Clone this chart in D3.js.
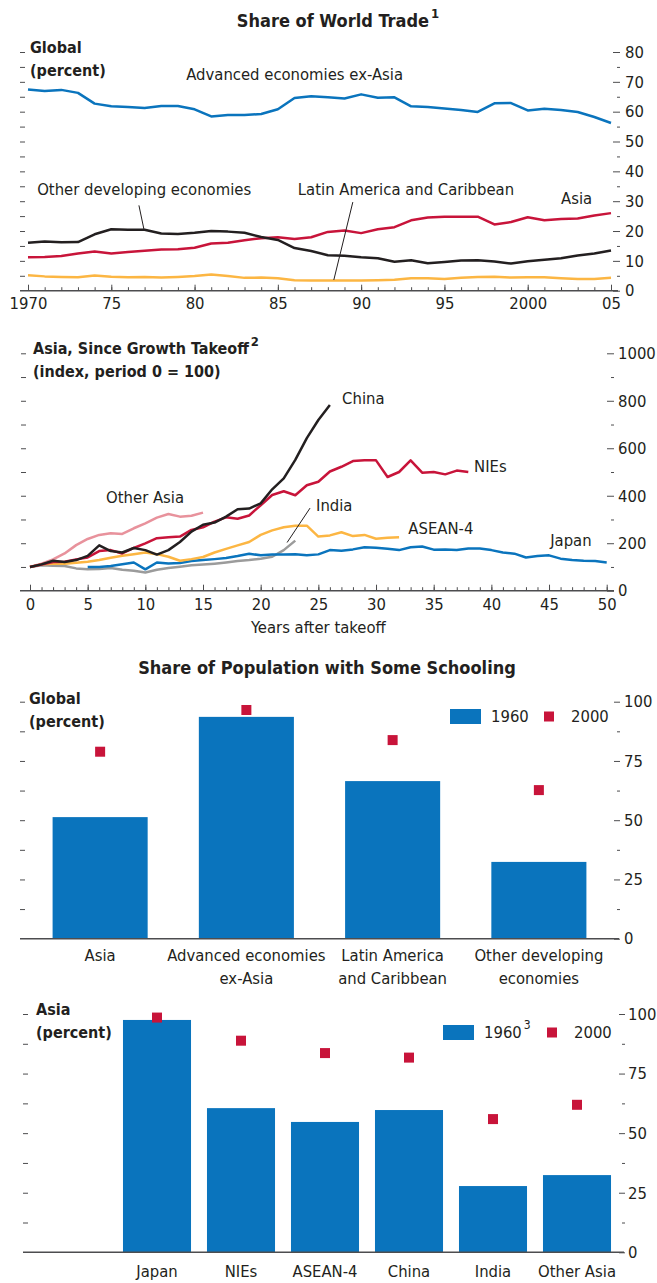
<!DOCTYPE html>
<html>
<head>
<meta charset="utf-8">
<script src="https://cdn.jsdelivr.net/npm/d3@7"></script>
<style>
  body { margin: 0; background: #fff; }
  svg text { font-family: "DejaVu Sans Condensed", "DejaVu Sans", sans-serif; font-stretch: condensed; fill: #231f20; }
  .ax text { font-size: 16.5px; }
  .lbl { font-size: 16.5px; }
  .bold { font-weight: bold; font-size: 16px; }
  .title { font-weight: bold; font-size: 18px; }
</style>
</head>
<body>
<svg id="chart" width="657" height="1283"></svg>
<script>
// --- share of world trade (percent), 1970-2005 ---
var years = d3.range(1970, 2006);
var advancedExAsia = [67.4, 66.9, 67.3, 66.3, 62.7, 61.8, 61.6, 61.2, 61.9, 61.9,
                      60.8, 58.4, 58.9, 58.9, 59.2, 60.8, 64.6, 65.2, 64.8, 64.4,
                      65.8, 64.7, 64.8, 61.8, 61.6, 61.1, 60.6, 59.9, 62.8, 62.9,
                      60.4, 61.0, 60.6, 59.9, 58.2, 56.2];
var asiaTrade = [11.2, 11.3, 11.6, 12.5, 13.1, 12.5, 13.0, 13.4, 13.8, 13.9,
                 14.4, 15.8, 16.1, 16.9, 17.6, 17.9, 17.3, 17.9, 19.7, 20.2,
                 19.3, 20.6, 21.3, 23.6, 24.5, 24.8, 24.8, 24.8, 22.2, 23.0,
                 24.6, 23.6, 24.0, 24.2, 25.2, 26.0];
var otherDeveloping = [16.1, 16.5, 16.2, 16.3, 18.9, 20.6, 20.4, 20.4, 19.2, 19.0,
                       19.4, 20.0, 19.8, 19.4, 18.0, 17.0, 14.3, 13.3, 11.9, 11.7,
                       11.2, 10.9, 9.7, 10.2, 9.2, 9.6, 10.1, 10.2, 9.8, 9.1,
                       9.9, 10.4, 10.9, 11.8, 12.5, 13.5];
var latinAmerica = [5.2, 4.8, 4.6, 4.5, 5.1, 4.7, 4.5, 4.6, 4.4, 4.6,
                    4.9, 5.4, 4.9, 4.3, 4.4, 4.2, 3.5, 3.4, 3.4, 3.4,
                    3.4, 3.5, 3.7, 4.2, 4.2, 3.9, 4.3, 4.6, 4.7, 4.4,
                    4.5, 4.5, 4.2, 3.9, 3.9, 4.3];

// --- Asia since growth takeoff (index, period 0 = 100) ---
var chinaIdx = [100, 111, 126, 121, 129, 147, 191, 167, 161, 180, 171, 152, 171, 205, 249,
                278, 287, 312, 343, 346, 368, 427, 473, 551, 643, 719, 782];
var niesIdx = [100, 110, 121, 122, 132, 140, 167, 171, 157, 180, 199, 221, 225, 228, 256,
               267, 291, 309, 303, 317, 360, 403, 419, 402, 444, 459, 502, 522, 546, 549,
               549, 479, 500, 549, 497, 500, 490, 506, 500];
var aseanIdx = [100, 111, 114, 114, 118, 122, 129, 139, 147, 154, 161, 154, 143, 126, 133,
                142, 161, 176, 191, 205, 235, 254, 267, 274, 274, 228, 233, 246, 230, 235,
                219, 223, 225];
var japanStart = 5;
var japanIdx = [100, 100, 104, 111, 119, 90, 119, 115, 117, 125, 129, 133, 138, 146, 156,
                149, 152, 153, 154, 149, 153, 171, 168, 174, 183, 181, 177, 171, 183, 186,
                173, 174, 171, 178, 178, 171, 161, 156, 140, 146, 149, 135, 129, 126, 125, 119];
var otherAsiaIdx = [100, 114, 132, 157, 192, 218, 235, 242, 239, 263, 284, 308, 323, 312, 316, 329];
var indiaIdx = [100, 107, 105, 104, 94, 90, 91, 96, 88, 84, 77, 88, 96, 101, 107, 110,
                114, 119, 125, 129, 135, 143, 171, 211];

// --- share of population with some schooling (percent) ---
var globalCats = ["Asia", "Advanced economies\nex-Asia", "Latin America\nand Caribbean", "Other developing\neconomies"];
var global1960 = [51.3, 93.6, 66.5, 32.4];
var global2000 = [78.9, 96.5, 83.8, 62.7];
var asiaCats = ["Japan", "NIEs", "ASEAN-4", "China", "India", "Other Asia"];
var asia1960 = [97.5, 60.5, 54.7, 59.7, 27.8, 32.4];
var asia2000 = [98.5, 88.8, 83.6, 81.7, 55.9, 61.9];

var blue = "#0a74bd", red = "#c8143a", black = "#231f20", gold = "#fcb643",
    pink = "#e8929c", grey = "#9b9b9b", axisCol = "#4d4d4f";

var svg = d3.select("#chart");

var clean = function(g) {
  g.attr("font-size", null).attr("font-family", null).attr("class", "ax").attr("color", axisCol);
  g.select(".domain").remove();
};

var leftTicks = function(y, values, x0) {
  svg.append("g").attr("transform", "translate(" + x0 + ",0)")
    .call(d3.axisRight(y).tickValues(values).tickSize(5).tickFormat(""))
    .call(clean);
};

var rightAxis = function(y, major, minor, x0, len, pad) {
  svg.append("g").attr("transform", "translate(" + x0 + ",0)")
    .call(d3.axisRight(y).tickValues(major).tickSize(len).tickPadding(pad).tickFormat(d3.format("d")))
    .call(clean);
  svg.append("g").attr("transform", "translate(" + (x0 + len - 3) + ",0)")
    .call(d3.axisRight(y).tickValues(minor).tickSize(3).tickFormat(""))
    .call(clean);
};

var baseLine = function(xa, xb, y) {
  svg.append("line").attr("x1", xa).attr("x2", xb).attr("y1", y).attr("y2", y)
    .attr("stroke", axisCol).attr("stroke-width", 1.5);
};

var drawLine = function(x, y, start, vals, col) {
  var pts = vals.map(function(v, i) { return [start + i, v]; });
  svg.append("path").datum(pts)
    .attr("d", d3.line().x(function(d) { return x(d[0]); }).y(function(d) { return y(d[1]); }))
    .attr("fill", "none").attr("stroke", col).attr("stroke-width", 2.5)
    .attr("stroke-linejoin", "round");
};

var note = function(txt, x, y, cls, anchor) {
  return svg.append("text").attr("x", x).attr("y", y).attr("class", cls || "lbl")
    .attr("text-anchor", anchor || "start").attr("dominant-baseline", "central").text(txt);
};

var leader = function(x, y, a, b) {
  svg.append("line").attr("x1", x(a[0])).attr("y1", y(a[1])).attr("x2", x(b[0])).attr("y2", y(b[1]))
    .attr("stroke", black).attr("stroke-width", 1);
};

var titleSup = function(txt, sup, x, y, cls, anchor) {
  var t = note(txt, x, y, cls, anchor);
  t.append("tspan").attr("dy", -7).attr("dx", 2).style("font-size", "13px").text(sup);
  return t;
};

// ================= panel 1 =================
var x1 = d3.scaleLinear().domain([1970, 2005]).range([28, 611]);
var y1 = d3.scaleLinear().domain([0, 80]).range([290.7, 52]);

titleSup("Share of World Trade", "1", 338, 20, "title", "middle");
note("Global", 30, 47, "bold");
note("(percent)", 30, 70, "bold");

leftTicks(y1, d3.range(5, 81, 5), 20);
rightAxis(y1, d3.range(0, 81, 10), d3.range(5, 81, 10), 613, 7, 5);
baseLine(20, 618, y1(0));
svg.append("g").attr("transform", "translate(0," + y1(0) + ")")
  .call(d3.axisBottom(x1).tickValues(d3.range(1970, 2006, 5)).tickSizeInner(-6).tickSizeOuter(0).tickPadding(7)
    .tickFormat(function(d) { return (d === 1970 || d === 2000) ? String(d) : String(d % 100).padStart(2, "0"); }))
  .call(clean);
svg.append("g").attr("transform", "translate(0," + y1(0) + ")")
  .call(d3.axisBottom(x1).tickValues(years).tickSizeInner(-3.5).tickSizeOuter(0).tickFormat(""))
  .call(clean);

drawLine(x1, y1, 1970, latinAmerica, gold);
drawLine(x1, y1, 1970, asiaTrade, red);
drawLine(x1, y1, 1970, otherDeveloping, black);
drawLine(x1, y1, 1970, advancedExAsia, blue);

note("Advanced economies ex-Asia", x1(1979.5), y1(72.3));
note("Other developing economies", x1(1970.55), y1(33.8));
leader(x1, y1, [1976.66, 28.6], [1976.96, 20.6]);
note("Latin America and Caribbean", x1(1986.2), y1(33.8));
leader(x1, y1, [1989.5, 29.7], [1988.36, 3.6]);
note("Asia", x1(2002), y1(31));

// ================= panel 2 =================
var x2 = d3.scaleLinear().domain([0, 50]).range([30, 606.7]);
var y2 = d3.scaleLinear().domain([0, 1000]).range([590.7, 353.3]);

titleSup("Asia, Since Growth Takeoff", "2", 33, 348, "bold");
note("(index, period 0 = 100)", 33, 371, "bold");

leftTicks(y2, d3.range(100, 1001, 100), 21);
rightAxis(y2, d3.range(0, 1001, 200), d3.range(100, 1001, 200), 607, 7, 4);
baseLine(20, 614, y2(0));
svg.append("g").attr("transform", "translate(0," + y2(0) + ")")
  .call(d3.axisBottom(x2).tickValues(d3.range(0, 51, 5)).tickSizeInner(-6).tickSizeOuter(0).tickPadding(8))
  .call(clean);
svg.append("g").attr("transform", "translate(0," + y2(0) + ")")
  .call(d3.axisBottom(x2).tickValues(d3.range(0, 51, 1)).tickSizeInner(-3.5).tickSizeOuter(0).tickFormat(""))
  .call(clean);
note("Years after takeoff", x2(25), 627, "lbl", "middle");

drawLine(x2, y2, 0, otherAsiaIdx, pink);
drawLine(x2, y2, 0, indiaIdx, grey);
drawLine(x2, y2, japanStart, japanIdx, blue);
drawLine(x2, y2, 0, aseanIdx, gold);
drawLine(x2, y2, 0, niesIdx, red);
drawLine(x2, y2, 0, chinaIdx, black);

note("China", x2(27.06), y2(808));
note("NIEs", x2(38.5), y2(525));
note("India", x2(24.8), y2(357));
leader(x2, y2, [24.28, 348], [22.29, 203]);
note("ASEAN-4", x2(32.8), y2(260));
note("Japan", x2(45.1), y2(213));
note("Other Asia", x2(6.6), y2(391));

// ================= bar panels =================
var barPanel = function(cats, v1960, v2000, cfg) {
  var x = d3.scaleBand().domain(cats).range(cfg.xr).paddingInner(cfg.pi).paddingOuter(cfg.po);
  var y = d3.scaleLinear().domain([0, 100]).range(cfg.yr);

  leftTicks(y, d3.range(12.5, 101, 12.5), cfg.left);
  rightAxis(y, [0, 25, 50, 75, 100], [12.5, 37.5, 62.5, 87.5], cfg.right, 6, cfg.pad);

  svg.append("g").selectAll("rect").data(cats).join("rect")
    .attr("x", function(d) { return x(d); })
    .attr("y", function(d, i) { return y(v1960[i]); })
    .attr("width", x.bandwidth())
    .attr("height", function(d, i) { return y(0) - y(v1960[i]); })
    .attr("fill", blue);
  baseLine(cfg.left, cfg.right + 5, y(0));

  var s = 10;
  svg.append("g").selectAll("rect").data(cats).join("rect")
    .attr("x", function(d) { return x(d) + x.bandwidth() / 2 - s / 2; })
    .attr("y", function(d, i) { return y(v2000[i]) - s / 2; })
    .attr("width", s).attr("height", s)
    .attr("fill", red);

  svg.append("g").selectAll("text").data(cats).join("text")
    .attr("class", "lbl").attr("text-anchor", "middle")
    .attr("transform", function(d) { return "translate(" + (x(d) + x.bandwidth() / 2) + "," + (y(0) + cfg.labelDy) + ")"; })
    .each(function(d) {
      var t = d3.select(this);
      d.split("\n").forEach(function(line, k) {
        t.append("tspan").attr("x", 0).attr("y", k * 23).text(line);
      });
    });

  // legend
  var lg = cfg.legend;
  var shift = cfg.sup ? 10 : 0;
  svg.append("rect").attr("x", lg.x).attr("y", lg.y - 7.5).attr("width", 31).attr("height", 15).attr("fill", blue);
  var t1960 = note("1960", lg.x + 41, lg.y);
  if (cfg.sup) t1960.append("tspan").attr("dy", -8).attr("dx", 2).style("font-size", "12px").text(cfg.sup);
  svg.append("rect").attr("x", lg.x + 94 + shift).attr("y", lg.y - 5).attr("width", s).attr("height", s).attr("fill", red);
  note("2000", lg.x + 121 + shift, lg.y);
};

note("Share of Population with Some Schooling", 327, 667, "title", "middle");
note("Global", 29, 698, "bold");
note("(percent)", 29, 721, "bold");
barPanel(globalCats, global1960, global2000, {
  xr: [27, 612], pi: 0.35, po: 0.175, yr: [938.7, 701.7], left: 20, right: 614, pad: 4,
  labelDy: 22, legend: { x: 450, y: 716.5 }
});

note("Asia", 36, 1009, "bold");
note("(percent)", 36, 1032, "bold");
barPanel(asiaCats, asia1960, asia2000, {
  xr: [115, 619], pi: 0.19, po: 0.095, yr: [1252.3, 1014], left: 23, right: 619, pad: 3,
  labelDy: 25, legend: { x: 443, y: 1032.5 }, sup: "3"
});
</script>
</body>
</html>
